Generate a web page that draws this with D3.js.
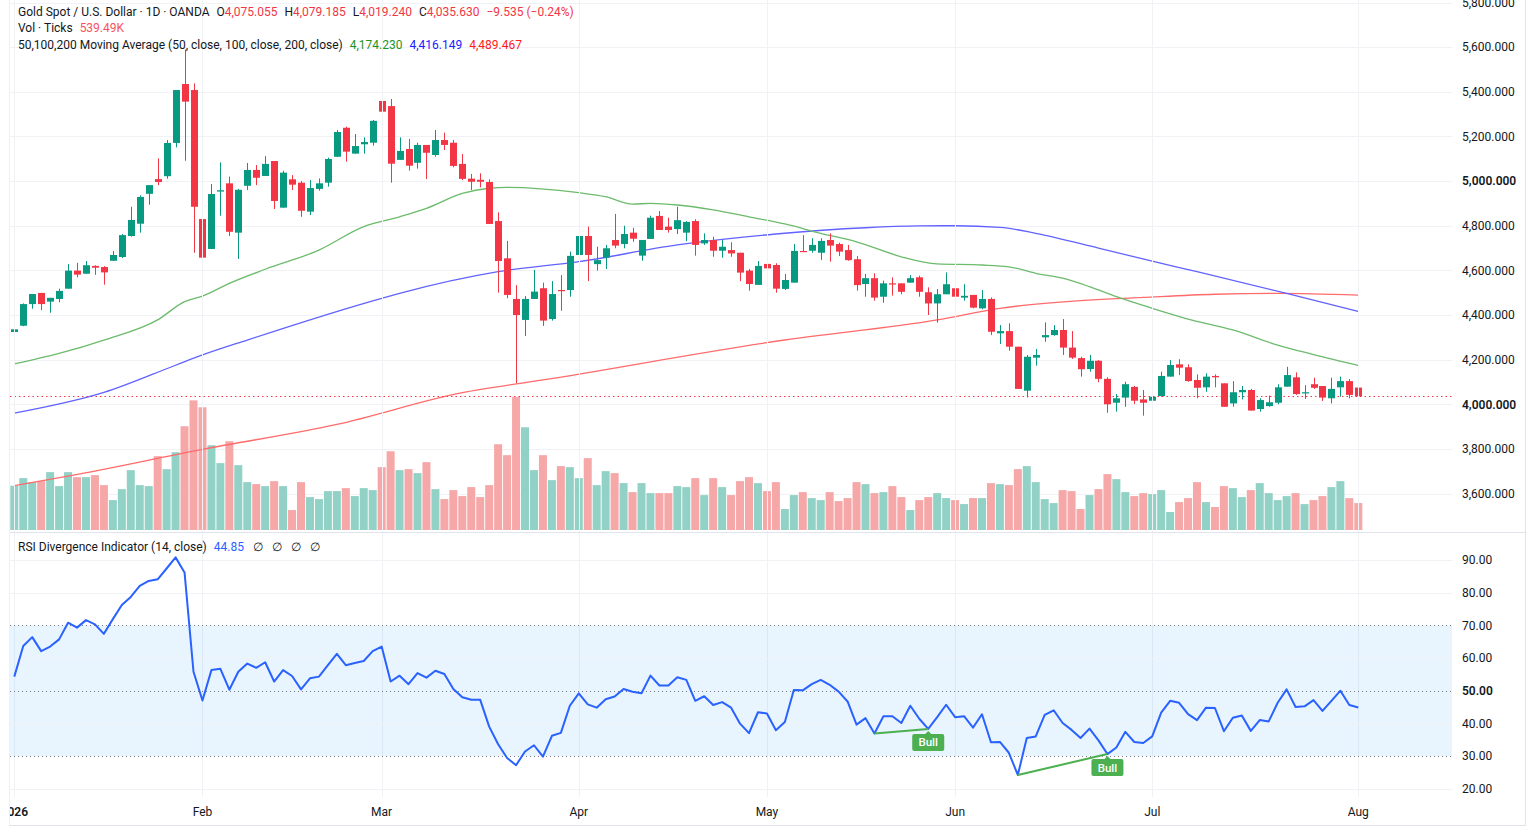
<!DOCTYPE html>
<html><head><meta charset="utf-8">
<script src="https://cdn.jsdelivr.net/npm/d3@7"></script>
<style>
body{margin:0;background:#fff;}
svg{display:block;font-family:Roboto,"Noto Sans",sans-serif;}
</style></head><body>
<svg id="c" width="1531" height="838"></svg>
<script>
// ---------- DATA ----------
const openP = [4324,4352,4449,4499,4460,4472,4518,4599,4585,4620,
4615,4643,4660,4754,4809,4943,5009,5022,5171,5435,
5408,4830,4696,4953,4990,4769,4979,5050,5023,5090,
4881,5008,4993,4863,4965,4993,5109,5239,5123,5165,
5172,5359,5336,5095,5144,5082,5162,5117,5184,5172,
5077,5011,5006,4996,4821,4654,4472,4378,4472,4520,
4382,4512,4512,4669,4754,4628,4657,4736,4718,4769,
4666,4741,4844,4796,4785,4769,4821,4721,4736,4688,
4691,4679,4599,4535,4629,4624,4517,4545,4687,4688,
4679,4736,4718,4691,4650,4539,4565,4482,4542,4542,
4545,4569,4502,4452,4493,4520,4478,4490,4430,4472,
4318,4328,4258,4061,4209,4300,4310,4333,4254,4207,
4158,4195,4114,4007,4030,4078,4022,4016,4037,4124,
4179,4166,4109,4076,4127,4094,4004,4054,4064,3979,
3992,4007,4079,4121,4051,4090,4082,4027,4076,4104,
4075.055];
const highP = [4400,4452,4494,4499,4477,4518,4628,4634,4642,4623,
4619,4687,4763,4885,4936,4982,5102,5184,5408,5590,
5438,4878,4987,5084,5020,4965,5081,5072,5112,5090,
5046,5027,5000,5005,5012,5105,5229,5244,5211,5196,
5274,5408,5368,5196,5189,5172,5162,5229,5217,5184,
5121,5032,5035,5008,4860,4732,4534,4485,4602,4545,
4552,4579,4684,4791,4796,4706,4714,4853,4800,4791,
4736,4845,4866,4836,4885,4821,4829,4766,4751,4736,
4726,4679,4606,4642,4654,4632,4584,4718,4758,4744,
4744,4766,4724,4714,4664,4584,4587,4554,4569,4542,
4579,4576,4524,4516,4591,4542,4538,4490,4512,4479,
4355,4363,4258,4221,4248,4367,4355,4382,4328,4213,
4221,4198,4121,4046,4101,4082,4064,4116,4146,4198,
4202,4179,4134,4139,4134,4094,4104,4082,4069,4027,
4039,4090,4168,4143,4086,4119,4082,4119,4124,4113,
4079.185];
const lowP = [4310,4350,4428,4422,4410,4457,4518,4569,4585,4580,
4536,4643,4655,4751,4769,4894,4982,5011,5151,5091,
4679,4400,4696,4845,4754,4651,4960,4982,5023,4875,
4881,4960,4840,4848,4957,4975,5109,5087,5123,5123,
5159,5251,4993,5095,5047,5056,5009,5109,5139,5062,
5005,4960,4972,4808,4500,4475,4095,4306,4472,4351,
4375,4419,4482,4661,4552,4599,4606,4699,4699,4728,
4643,4741,4781,4769,4763,4731,4666,4714,4661,4657,
4661,4552,4509,4535,4557,4500,4512,4545,4682,4679,
4647,4639,4664,4643,4509,4482,4464,4455,4487,4493,
4545,4482,4400,4366,4493,4445,4464,4430,4426,4310,
4270,4240,4069,4031,4173,4280,4307,4221,4203,4124,
4146,4099,3962,3967,3989,4001,3949,3967,4034,4124,
4131,4101,4027,4056,4076,3989,3989,4022,3972,3967,
3989,4000,4079,4042,4024,4069,4015,4004,4034,4027,
4019.240];
const closeP = [4336,4449,4494,4449,4477,4508,4599,4581,4623,4612,
4591,4669,4758,4826,4929,4982,4996,5171,5408,5356,
4885,4657,4942,4959,4773,4961,5050,5015,5077,4911,
5038,4984,4867,4969,4990,5099,5220,5132,5157,5175,
5270,5311,5078,5135,5069,5162,5127,5184,5162,5068,
5010,4997,4997,4808,4642,4490,4400,4472,4505,4375,
4494,4508,4665,4754,4669,4646,4699,4711,4763,4742,
4736,4836,4781,4781,4825,4817,4714,4736,4688,4706,
4676,4590,4539,4620,4609,4518,4557,4687,4682,4714,
4732,4711,4684,4646,4534,4565,4478,4542,4538,4504,
4565,4504,4452,4493,4538,4482,4486,4433,4472,4325,
4328,4258,4069,4213,4221,4310,4333,4254,4209,4157,
4195,4114,4000,4027,4090,4016,4007,4034,4127,4176,
4164,4104,4074,4124,4121,3989,4054,4064,3972,4019,
4009,4076,4131,4046,4054,4074,4030,4069,4104,4042,
4035.630];
const volumeK = [886,1039,959,979,1159,879,1159,1059,1059,1099,
899,599,819,1199,899,879,1479,1219,1558,2078,
2597,2458,1698,1339,1778,1299,959,919,879,979,
879,400,959,659,619,779,779,839,679,839,
799,1259,1578,1199,1219,1139,1359,819,619,799,
679,859,659,899,1718,1499,2664,2058,1199,1499,
999,1279,1259,1039,1439,899,1179,1139,939,759,
939,739,739,739,879,859,1039,699,1039,859,
699,979,1059,939,779,959,420,699,759,639,
599,759,579,639,959,919,739,759,879,659,
400,599,659,739,639,599,519,639,639,939,
919,899,1219,1279,959,619,539,799,779,420,
699,819,1119,1019,759,679,739,719,799,360,
559,639,959,559,460,879,839,659,799,939,
739,599,679,739,519,599,679,859,979,639,
539.49];
const rsiVals = [54.3,63.7,66.4,62.1,63.5,65.7,70.8,69.3,71.6,70.3,
67.4,71.9,76.2,78.7,82.1,83.6,84.1,87.4,90.8,86.2,
55.8,47.0,56.3,56.7,50.3,55.8,58.3,57.0,58.7,52.8,
56.3,54.5,50.4,53.8,54.3,57.8,61.3,57.8,58.5,59.1,
62.1,63.5,52.8,54.6,52.0,55.4,54.0,56.1,55.1,50.5,
48.0,47.2,47.2,39.0,33.6,29.4,27.2,31.4,33.3,29.8,
36.2,37.1,45.4,49.2,45.8,44.8,47.4,48.2,50.5,49.7,
49.2,54.6,51.6,51.6,54.1,53.3,46.9,48.3,45.6,46.5,
44.8,39.9,37.0,43.4,43.0,37.9,40.4,50.2,50.1,52.0,
53.3,51.8,49.7,46.7,39.6,41.6,36.9,42.2,42.2,40.1,
45.4,41.4,38.3,41.9,45.7,41.9,42.2,38.7,42.8,34.2,
34.3,31.0,24.2,35.5,36.0,42.6,44.0,40.1,38.0,35.5,
38.4,34.8,30.6,32.6,37.4,34.3,34.0,36.0,43.3,46.9,
46.3,42.8,41.0,44.8,44.7,37.6,41.7,42.4,37.7,41.0,
40.6,46.3,50.4,45.0,45.2,47.1,43.8,46.9,50.0,45.6,
44.85];
// moving averages read at selected bars (bar index, value)
const ma50Idx = [0,5,10,16,19,21,24,28,34,39,43,46,50,53,55,63,66,69,71,74,78,82,86,90,94,99,103,108,111,114,117,120,123,127,131,136,141,145,150];
const ma50Val = [4181,4228,4288,4378,4460,4485,4542,4605,4691,4796,4840,4878,4945,4968,4972,4948,4930,4897,4900,4893,4871,4840,4808,4766,4728,4661,4629,4624,4616,4587,4565,4527,4482,4430,4382,4333,4265,4223,4174.23];
const ma100Idx = [0,10,18,21,26,41,43,54,63,74,85,95,101,105,110,114,121,127,132,142,150];
const ma100Val = [3960,4053,4175,4221,4288,4475,4497,4594,4639,4714,4763,4791,4799,4800,4793,4766,4700,4641,4594,4497,4416.149];
const ma200Idx = [0,6,21,36,50,59,86,103,110,120,126,134,141,150];
const ma200Val = [3636,3678,3798,3910,4052,4109,4288,4378,4430,4467,4479,4493,4497,4489.467];
// time axis
const monthLabels = ["2026","Feb","Mar","Apr","May","Jun","Jul","Aug"];
const monthIdx = [0,21,41,63,84,105,127,150];
const priceTicks = [3600,3800,4000,4200,4400,4600,4800,5000,5200,5400,5600,5800];
const rsiTicks = [20,30,40,50,60,70,80,90];
// divergences (bar index pairs)
const bullFrom = [96,112];
const bullTo = [102,122];

// ---------- LAYOUT ----------
const svg = d3.select("#c");
const L = 10, R = 1452, mainBot = 531, rsiTop = 533, rsiBot = 797;
const n = closeP.length;
const x = d3.scaleLinear().domain([0, n-1]).range([14.3, 1358.3]);
const y = d3.scaleLinear().domain([3600, 5800]).range([493.58, 2.54]);
const yV = d3.scaleLinear().domain([0, 2664]).range([530, 397]);
const yR = d3.scaleLinear().domain([20, 90]).range([788.7, 560.0]);
const UP = "#089981", DN = "#f23645";
const grid = "#f0f2f5";

const defs = svg.append("defs");
defs.append("clipPath").attr("id","cm").append("rect").attr("x",L).attr("y",0).attr("width",R-L).attr("height",mainBot);
defs.append("clipPath").attr("id","cr").append("rect").attr("x",L).attr("y",rsiTop).attr("width",R-L).attr("height",rsiBot-rsiTop);
defs.append("clipPath").attr("id","ct").append("rect").attr("x",L).attr("y",rsiBot).attr("width",R-L).attr("height",28);

svg.append("rect").attr("width",1531).attr("height",838).attr("fill","#fff");

// grids
const gMain = svg.append("g").attr("clip-path","url(#cm)");
gMain.selectAll(".hg").data(priceTicks).join("line")
  .attr("x1",L).attr("x2",R).attr("y1",d=>Math.round(y(d))+0.5).attr("y2",d=>Math.round(y(d))+0.5)
  .attr("stroke",grid);
svg.selectAll(".vg").data(monthIdx).join("line")
  .attr("x1",d=>Math.round(x(d))+0.5).attr("x2",d=>Math.round(x(d))+0.5)
  .attr("y1",0).attr("y2",rsiBot).attr("stroke",grid);

// volume
gMain.selectAll(".vol").data(volumeK).join("rect")
  .attr("x",(d,i)=>x(i)-4).attr("width",8)
  .attr("y",d=>yV(d)).attr("height",d=>530-yV(d))
  .attr("fill",(d,i)=>closeP[i]>=openP[i] ? "#92d1c6" : "#f6a7a8");

// moving averages
function maLine(idx, vals, color){
  const pts = idx.map((k,j)=>[x(k), y(vals[j])]);
  gMain.append("path").attr("d", d3.line().curve(d3.curveMonotoneX)(pts))
    .attr("fill","none").attr("stroke",color).attr("stroke-width",1.3);
}
maLine(ma200Idx, ma200Val, "#ff6b6b");
maLine(ma100Idx, ma100Val, "#6262ff");
maLine(ma50Idx, ma50Val, "#6cbb6c");

// last price line
gMain.append("line").attr("x1",L).attr("x2",R)
  .attr("y1",Math.round(y(closeP[n-1]))+0.5).attr("y2",Math.round(y(closeP[n-1]))+0.5)
  .attr("stroke",DN).attr("stroke-dasharray","1.5,3").attr("stroke-width",1.2);

// candles
const cg = gMain.selectAll(".cdl").data(closeP).join("g");
cg.append("line")
  .attr("x1",(d,i)=>Math.round(x(i))+0.5).attr("x2",(d,i)=>Math.round(x(i))+0.5)
  .attr("y1",(d,i)=>y(highP[i])).attr("y2",(d,i)=>y(lowP[i]))
  .attr("stroke",(d,i)=>d>=openP[i]?UP:DN).attr("stroke-width",1);
cg.append("rect")
  .attr("x",(d,i)=>Math.round(x(i))-3).attr("width",7)
  .attr("y",(d,i)=>y(Math.max(d,openP[i])))
  .attr("height",(d,i)=>Math.max(1.2, Math.abs(y(d)-y(openP[i]))))
  .attr("fill",(d,i)=>d>=openP[i]?UP:DN);

// separators/borders
svg.append("line").attr("x1",L).attr("x2",1525).attr("y1",532.5).attr("y2",532.5).attr("stroke","#e0e3eb");
svg.append("line").attr("x1",1525.5).attr("x2",1525.5).attr("y1",0).attr("y2",826).attr("stroke","#e0e3eb");
svg.append("line").attr("x1",9.5).attr("x2",9.5).attr("y1",0).attr("y2",826).attr("stroke","#eef0f3");
svg.append("line").attr("x1",9.5).attr("x2",1525.5).attr("y1",825.5).attr("y2",825.5).attr("stroke","#e0e3eb");

// RSI pane
const gR = svg.append("g").attr("clip-path","url(#cr)");
gR.append("rect").attr("x",L).attr("width",R-L).attr("y",yR(70)).attr("height",yR(30)-yR(70))
  .attr("fill","rgba(33,150,243,0.1)");
gR.selectAll(".rg").data([20,40,60,80,90]).join("line")
  .attr("x1",L).attr("x2",R).attr("y1",d=>Math.round(yR(d))+0.5).attr("y2",d=>Math.round(yR(d))+0.5)
  .attr("stroke",grid);
gR.selectAll(".rb").data([70,50,30]).join("line")
  .attr("x1",L).attr("x2",R).attr("y1",d=>Math.round(yR(d))+0.5).attr("y2",d=>Math.round(yR(d))+0.5)
  .attr("stroke","#787b86").attr("stroke-dasharray","1,3");
gR.append("path").attr("d", d3.line().x((d,i)=>x(i)).y(d=>yR(d))(rsiVals))
  .attr("fill","none").attr("stroke","#2962ff").attr("stroke-width",2).attr("stroke-linejoin","round");
// divergences
bullFrom.forEach((f,j)=>{
  const t = bullTo[j];
  gR.append("line").attr("x1",x(f)).attr("y1",yR(rsiVals[f])).attr("x2",x(t)).attr("y2",yR(rsiVals[t]))
    .attr("stroke","#4caf50").attr("stroke-width",2);
  const cx = x(t), top = yR(rsiVals[t]) + 3;
  svg.append("path").attr("d",`M${cx-4},${top+3}L${cx},${top-1}L${cx+4},${top+3}Z`).attr("fill","#4caf50");
  svg.append("rect").attr("x",cx-16).attr("y",top+2).attr("width",32).attr("height",17).attr("rx",2).attr("fill","#4caf50");
  svg.append("text").attr("x",cx).attr("y",top+14.5).attr("text-anchor","middle")
    .attr("font-size",11.5).attr("font-weight",500).attr("fill","#fff").text("Bull");
});

// price axis
const fmtP = d3.format(",.3f");
svg.selectAll(".pl").data(priceTicks).join("text")
  .attr("x",1462).attr("y",d=>y(d)).attr("dy","0.35em")
  .attr("font-size",12).attr("fill","#131722")
  .attr("font-weight",d=>(d===5000||d===4000)?600:400)
  .text(d=>fmtP(d));
svg.selectAll(".rl").data(rsiTicks).join("text")
  .attr("x",1462).attr("y",d=>yR(d)).attr("dy","0.35em")
  .attr("font-size",12).attr("fill","#131722")
  .attr("font-weight",d=>d===50?600:400)
  .text(d=>d3.format(".2f")(d));

// time axis
svg.append("g").attr("clip-path","url(#ct)").selectAll("text").data(monthLabels).join("text")
  .attr("x",(d,i)=>x(monthIdx[i])).attr("y",815.5).attr("text-anchor","middle")
  .attr("font-size",12).attr("fill","#131722")
  .attr("font-weight",(d,i)=>i===0?600:400)
  .text(d=>d);

// legends
function legend(yy, parts){
  const t = svg.append("text").attr("x",18).attr("y",yy).attr("font-size",12).attr("fill","#131722");
  parts.forEach(p=>{
    t.append("tspan").attr("dx",p.dx||0).attr("fill",p.c||"#131722").text(p.t);
  });
}
const f3 = d3.format(",.3f");
legend(15.5, [
  {t:"Gold Spot / U.S. Dollar · 1D · OANDA"},
  {t:"O",dx:7},{t:f3(openP[n-1]),c:DN},
  {t:"H",dx:7},{t:f3(highP[n-1]),c:DN},
  {t:"L",dx:7},{t:f3(lowP[n-1]),c:DN},
  {t:"C",dx:7},{t:f3(closeP[n-1]),c:DN},
  {t:"−9.535 (−0.24%)",c:DN,dx:7}
]);
legend(32, [{t:"Vol · Ticks"},{t:"539.49K",c:"#f7525f",dx:7}]);
legend(48.5, [
  {t:"50,100,200 Moving Average (50, close, 100, close, 200, close)"},
  {t:f3(ma50Val[ma50Val.length-1]),c:"#1f931f",dx:7},
  {t:f3(ma100Val[ma100Val.length-1]),c:"#2020ff",dx:7},
  {t:f3(ma200Val[ma200Val.length-1]),c:"#ff1a1a",dx:7}
]);
legend(550.5, [
  {t:"RSI Divergence Indicator (14, close)"},
  {t:d3.format(".2f")(rsiVals[n-1]),c:"#2962ff",dx:7},
  {t:"∅",dx:9},{t:"∅",dx:9},{t:"∅",dx:9},{t:"∅",dx:9}
]);
</script></body></html>
